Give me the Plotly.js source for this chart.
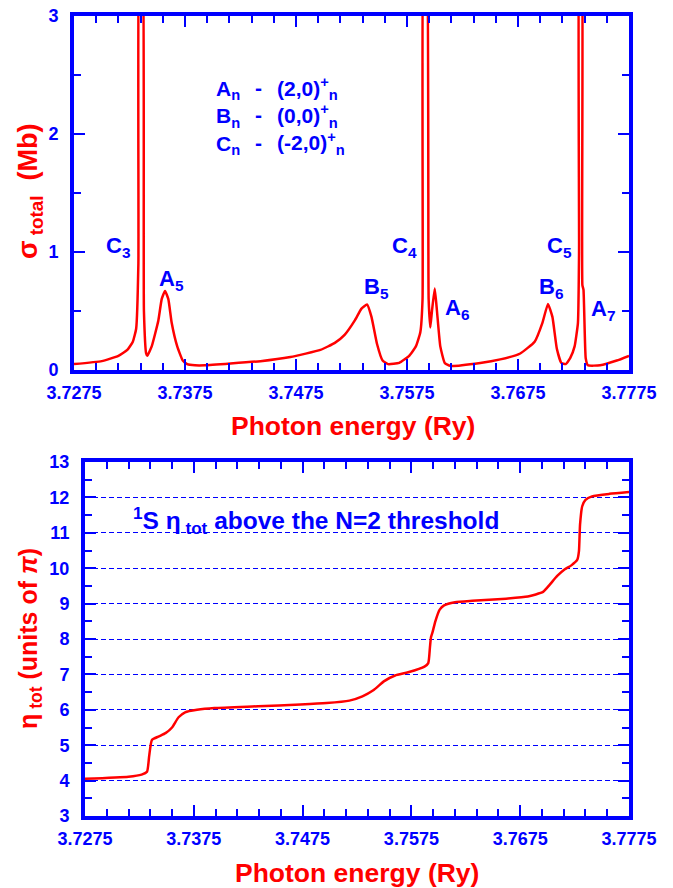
<!DOCTYPE html>
<html>
<head>
<meta charset="utf-8">
<script src="https://cdn.plot.ly/plotly-3.0.1.min.js"></script>
<style>
  html, body { margin: 0; padding: 0; background: #ffffff; }
  #chart { width: 673px; height: 888px; }
</style>
</head>
<body>
<div id="chart"></div>
<script>
// Total photoionisation cross section (Mb) versus photon energy (Ry)
const energyTop = [
  3.7275, 3.7300, 3.7315, 3.7323, 3.7328, 3.7331, 3.7333, 3.73345, 3.7336, 3.7338,
  3.7340, 3.7341, 3.7345, 3.7351, 3.7354, 3.7357, 3.7360, 3.7363, 3.7368, 3.7373,
  3.7377, 3.7384, 3.7393, 3.7416, 3.7443, 3.7470, 3.7497, 3.7510, 3.7519, 3.7528,
  3.7534, 3.7539, 3.7543, 3.7548, 3.7553, 3.7558, 3.7568, 3.7577, 3.7583, 3.7587,
  3.7589, 3.75905, 3.7592, 3.75945, 3.7596, 3.75975, 3.7600, 3.7602, 3.7605, 3.7609,
  3.7614, 3.7641, 3.7659, 3.7677, 3.7690, 3.7697, 3.7702, 3.7706, 3.7710, 3.7714,
  3.7718, 3.7722, 3.7726, 3.7729, 3.7730, 3.77308, 3.7732, 3.7733, 3.7734, 3.7736,
  3.7738, 3.7749, 3.7764, 3.7775
];
const sigmaTotal = [
  0.05, 0.075, 0.12, 0.17, 0.24, 0.35, 0.9, 4.0, 4.0, 0.5,
  0.14, 0.12, 0.2, 0.42, 0.6, 0.67, 0.6, 0.4, 0.2, 0.08,
  0.05, 0.04, 0.04, 0.055, 0.075, 0.11, 0.17, 0.23, 0.3, 0.42,
  0.52, 0.555, 0.45, 0.22, 0.08, 0.05, 0.06, 0.12, 0.2, 0.32,
  0.6, 4.0, 4.0, 0.6, 0.36, 0.5, 0.69, 0.5, 0.2, 0.06,
  0.035, 0.06, 0.09, 0.14, 0.24, 0.4, 0.56, 0.45, 0.18, 0.06,
  0.05, 0.1, 0.2, 0.4, 1.0, 4.0, 4.0, 0.72, 0.68, 0.1,
  0.04, 0.04, 0.08, 0.12
];

// Total eigenphase sum (units of pi) versus photon energy (Ry)
const energyBottom = [
  3.7275, 3.7315, 3.7327, 3.7332, 3.7334, 3.73365, 3.7343, 3.7349, 3.7355, 3.7361,
  3.7367, 3.7378, 3.7394, 3.7434, 3.7473, 3.7497, 3.7518, 3.7530, 3.7540, 3.7550,
  3.7560, 3.7572, 3.7587, 3.75905, 3.7592, 3.7593, 3.75945, 3.7597, 3.7601, 3.7605,
  3.7615, 3.7631, 3.7662, 3.7682, 3.7696, 3.7702, 3.7709, 3.7716, 3.7722, 3.77275,
  3.7729, 3.7730, 3.7732, 3.7735, 3.7741, 3.7757, 3.7775
];
const etaTotal = [
  4.05, 4.11, 4.17, 4.25, 4.7, 5.15, 5.25, 5.34, 5.5, 5.79,
  5.93, 6.0, 6.05, 6.1, 6.15, 6.19, 6.26, 6.38, 6.55, 6.81,
  6.97, 7.06, 7.22, 7.32, 7.75, 8.05, 8.2, 8.5, 8.83, 8.95,
  9.04, 9.08, 9.14, 9.2, 9.33, 9.53, 9.78, 9.97, 10.08, 10.24,
  10.48, 11.23, 11.75, 11.93, 12.03, 12.1, 12.15
];

const xTickVals = [3.7275, 3.7375, 3.7475, 3.7575, 3.7675, 3.7775];
const xTickLabels = ['3.7275', '3.7375', '3.7475', '3.7575', '3.7675', '3.7775'];
const sigmaTicks = [0, 1, 2, 3];
const etaTicks = [3, 4, 5, 6, 7, 8, 9, 10, 11, 12, 13];

const peakLabels = ['C<sub>3</sub>', 'A<sub>5</sub>', 'B<sub>5</sub>', 'C<sub>4</sub>',
                    'A<sub>6</sub>', 'B<sub>6</sub>', 'C<sub>5</sub>', 'A<sub>7</sub>'];
const seriesNames = ['A<sub>n</sub>', 'B<sub>n</sub>', 'C<sub>n</sub>'];
const seriesStates = ['(2,0)<sup>+</sup><sub>n</sub>', '(0,0)<sup>+</sup><sub>n</sub>', '(-2,0)<sup>+</sup><sub>n</sub>'];

// page geometry helpers (pixel -> paper fraction)
const W = 673, H = 888;
const px = x => x / W;
const py = y => 1 - y / H;

const BLUE = 'rgb(0,0,255)';
const RED = 'rgb(255,0,0)';
const FONT = 'Liberation Sans, Arial, Helvetica, sans-serif';

const tickFont = { family: FONT, size: 18, color: BLUE, weight: 'bold' };

function energyAxis(domain, anchor) {
  return {
    domain: domain, anchor: anchor, range: [3.7275, 3.7775],
    tickmode: 'array', tickvals: xTickVals, ticktext: xTickLabels,
    ticks: 'inside', ticklen: 11, tickwidth: 2, tickcolor: BLUE,
    showline: true, linewidth: 4, linecolor: BLUE, mirror: 'allticks',
    showgrid: false, zeroline: false, tickfont: tickFont, ticklabelstandoff: 3,
    minor: { tickmode: 'linear', tick0: 3.7275, dtick: 0.002, ticks: 'inside',
             ticklen: 7, tickwidth: 2, tickcolor: BLUE, showgrid: false },
    fixedrange: true
  };
}

function valueAxis(domain, anchor, range, vals, grid) {
  return {
    domain: domain, anchor: anchor, range: range,
    tickmode: 'array', tickvals: vals, ticktext: vals.map(String),
    ticks: 'inside', ticklen: 11, tickwidth: 2, tickcolor: BLUE,
    showline: true, linewidth: 4, linecolor: BLUE, mirror: 'allticks',
    showgrid: grid, gridcolor: BLUE, gridwidth: 1, griddash: '5px,3px',
    zeroline: false, tickfont: tickFont, ticklabelstandoff: 8,
    minor: { tickmode: 'linear', tick0: range[0], dtick: 0.5, ticks: 'inside',
             ticklen: 7, tickwidth: 2, tickcolor: BLUE, showgrid: false },
    fixedrange: true
  };
}

const traces = [
  { x: energyTop, y: sigmaTotal, xaxis: 'x', yaxis: 'y', mode: 'lines',
    line: { color: RED, width: 2.5, shape: 'spline', smoothing: 0.4 }, hoverinfo: 'skip' },
  { x: energyBottom, y: etaTotal, xaxis: 'x2', yaxis: 'y2', mode: 'lines',
    line: { color: RED, width: 2.5, shape: 'spline', smoothing: 0.5 }, hoverinfo: 'skip' }
];

const labelFont = { family: FONT, size: 22, color: BLUE, weight: 'bold' };
const keyFont = { family: FONT, size: 21, color: BLUE, weight: 'bold' };
const captionFont = { family: FONT, size: 24.5, color: BLUE, weight: 'bold' };
const titleFont = { family: FONT, size: 26.5, color: RED, weight: 'bold' };
const sigmaTitleFont = { family: FONT, size: 27, color: RED, weight: 'bold' };
const etaTitleFont = { family: FONT, size: 25, color: RED, weight: 'bold' };

function note(text, x, y, font, extra) {
  return Object.assign({ text: text, x: px(x), y: py(y), xref: 'paper', yref: 'paper',
    showarrow: false, font: font, xanchor: 'center', yanchor: 'middle' }, extra || {});
}

const annotations = [];

// resonance labels
const peakPos = [[118, 247], [171, 280], [376, 288], [404, 247],
                 [457, 309], [551, 288], [559, 247], [603, 310]];
peakLabels.forEach((t, i) => annotations.push(note(t, peakPos[i][0], peakPos[i][1], labelFont)));

// resonance series key, drawn as three aligned columns
annotations.push(note(seriesNames.join('<br>'), 214, 117, keyFont, { xanchor: 'left', align: 'left' }));
annotations.push(note(seriesNames.map(() => '-').join('<br>'), 258, 115, keyFont));
annotations.push(note(seriesStates.join('<br>'), 275, 116, keyFont, { xanchor: 'left', align: 'left' }));

// lower panel caption
annotations.push(note('<sup>1</sup>S \u03b7<sub> tot</sub> above the N=2 threshold', 131, 520,
  captionFont, { xanchor: 'left' }));

// axis titles
annotations.push(note('Photon energy (Ry)', 353, 426, titleFont));
annotations.push(note('Photon energy (Ry)', 357, 873, titleFont));
annotations.push(note('\u03c3<sub> total</sub>  (Mb)', 30, 191, sigmaTitleFont, { textangle: -90 }));
annotations.push(note('\u03b7<sub> tot</sub> (units of <i>\u03c0</i>)', 30, 639, etaTitleFont, { textangle: -90 }));

const layout = {
  width: W, height: H,
  margin: { l: 0, r: 0, t: 0, b: 0 },
  paper_bgcolor: '#ffffff', plot_bgcolor: '#ffffff',
  showlegend: false,
  xaxis: energyAxis([px(74), px(629)], 'y'),
  yaxis: valueAxis([py(370), py(16)], 'x', [0, 3], sigmaTicks, false),
  xaxis2: energyAxis([px(85), px(629)], 'y2'),
  yaxis2: valueAxis([py(816), py(462)], 'x2', [3, 13], etaTicks, true),
  annotations: annotations
};

Plotly.newPlot('chart', traces, layout, { staticPlot: true, displayModeBar: false });
</script>
</body>
</html>
